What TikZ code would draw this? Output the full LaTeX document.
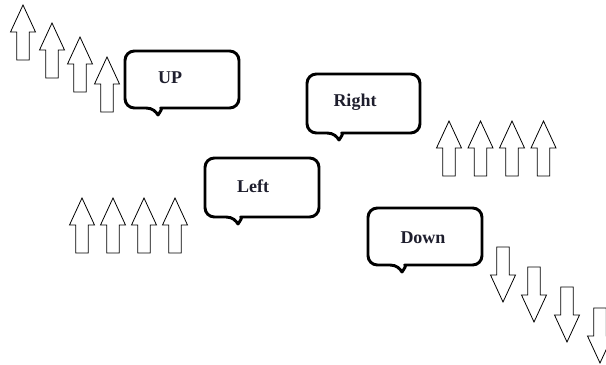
\documentclass[tikz,border=0pt]{standalone}
\usepackage{fontspec}
\setmainfont{Liberation Serif}
\usepackage{tikz}
\usepackage{xcolor}

\definecolor{labelink}{RGB}{30,30,45}

\begin{document}
\begin{tikzpicture}[
  x=0.75pt, y=-0.75pt,
  font=\fontsize{13.5}{16}\selectfont\bfseries,
  blockarrow/.style={draw=black, line width=0.6pt, fill=white, line join=miter},
  bubble/.style={draw=black, line width=2.2pt, line join=round, fill=white},
  ]

  % Parameters
  \def\Hw{12.5}
  \def\Sw{6.3}
  \def\Hh{27}
  \def\Ln{55}
  \def\Nw{12}

  \useasboundingbox (0,0) rectangle (606,364);

  % Up arrows, top left (stepping down)
  \foreach \x/\y in {23/5, 52/23, 80/37, 107/57} {
    \draw[blockarrow] (\x,\y) -- (\x+\Hw,\y+\Hh) -- (\x+\Sw,\y+\Hh)
      -- (\x+\Sw,\y+\Ln) -- (\x-\Sw,\y+\Ln) -- (\x-\Sw,\y+\Hh)
      -- (\x-\Hw,\y+\Hh) -- cycle;
  }

  % Up arrows, right row
  \foreach \x in {449, 480.5, 512, 543.5} {
    \draw[blockarrow] (\x,121) -- (\x+\Hw,121+\Hh) -- (\x+\Sw,121+\Hh)
      -- (\x+\Sw,121+\Ln) -- (\x-\Sw,121+\Ln) -- (\x-\Sw,121+\Hh)
      -- (\x-\Hw,121+\Hh) -- cycle;
  }

  % Up arrows, left row
  \foreach \x in {82, 113, 144, 175} {
    \draw[blockarrow] (\x,198) -- (\x+\Hw,198+\Hh) -- (\x+\Sw,198+\Hh)
      -- (\x+\Sw,198+\Ln) -- (\x-\Sw,198+\Ln) -- (\x-\Sw,198+\Hh)
      -- (\x-\Hw,198+\Hh) -- cycle;
  }

  % Down arrows, bottom right (stepping down)
  \foreach \x/\y in {503/302, 534/322, 567/342, 600/363} {
    \draw[blockarrow] (\x,\y) -- (\x+\Hw,\y-\Hh) -- (\x+\Sw,\y-\Hh)
      -- (\x+\Sw,\y-\Ln) -- (\x-\Sw,\y-\Ln) -- (\x-\Sw,\y-\Hh)
      -- (\x-\Hw,\y-\Hh) -- cycle;
  }

  % Speech bubbles (left/top/right/bottom/notch)
  \foreach \L/\T/\R/\B/\P in {125/51/239/108/158, 307/74/420/133/339,
                              205/158/319/217/238, 368/208/482/265/402} {
    \draw[bubble, rounded corners=7pt] (\P-\Nw,\B) -- (\L,\B) -- (\L,\T)
      -- (\R,\T) -- (\R,\B) -- (\P+\Nw,\B) [sharp corners]
      .. controls (\P+5,\B) and (\P+2,\B+4) .. (\P,\B+7)
      .. controls (\P-2,\B+4) and (\P-5,\B) .. (\P-\Nw,\B);
  }

  % Labels
  \node[text=labelink] (up) at (170,78) {UP};
  \node[text=labelink] (right) at (355,102) {Right};
  \node[text=labelink] (left) at (253,186) {Left};
  \node[text=labelink] (down) at (423,238) {Down};

\end{tikzpicture}
\end{document}
